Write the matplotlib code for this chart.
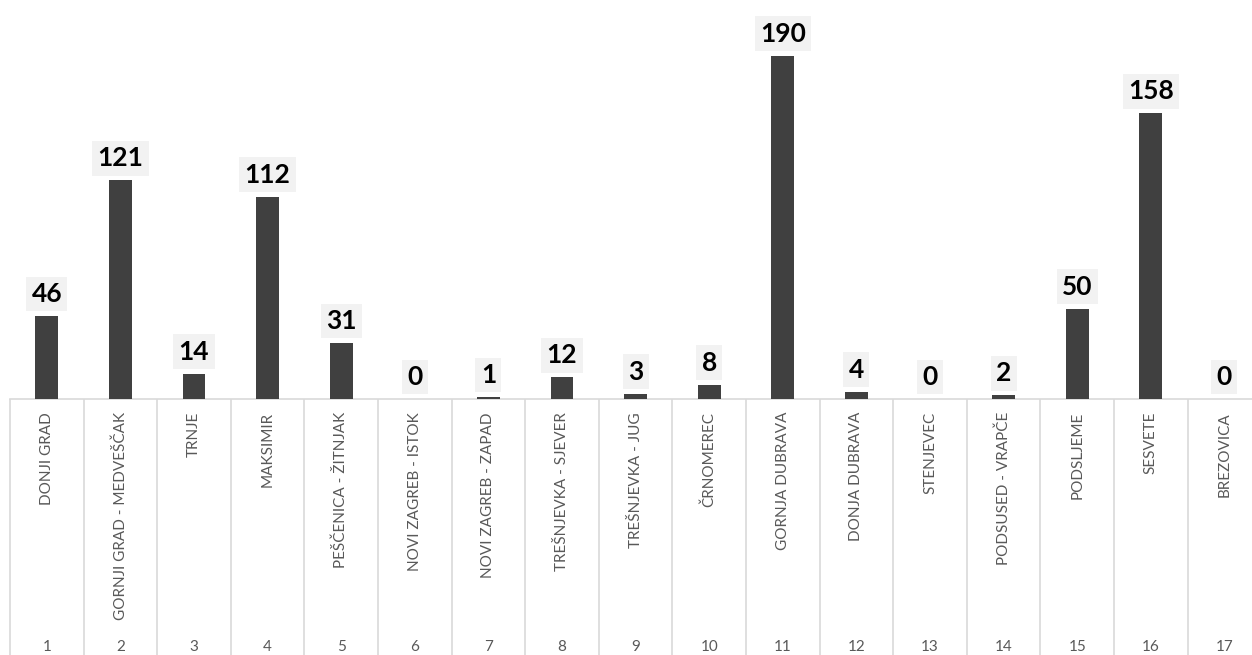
import numpy as np
import matplotlib
matplotlib.use("Agg")
import matplotlib.pyplot as plt
import matplotlib.transforms as mtransforms

districts = ["DONJI GRAD", "GORNJI GRAD - MEDVEŠČAK", "TRNJE", "MAKSIMIR",
             "PEŠČENICA - ŽITNJAK", "NOVI ZAGREB - ISTOK", "NOVI ZAGREB - ZAPAD",
             "TREŠNJEVKA - SJEVER", "TREŠNJEVKA - JUG", "ČRNOMEREC",
             "GORNJA DUBRAVA", "DONJA DUBRAVA", "STENJEVEC", "PODSUSED - VRAPČE",
             "PODSLJEME", "SESVETE", "BREZOVICA"]
numbers = [str(i) for i in range(1, 18)]
values = [46, 121, 14, 112, 31, 0, 1, 12, 3, 8, 190, 4, 0, 2, 50, 158, 0]

W, H = 1252, 655
fig = plt.figure(figsize=(W / 100, H / 100), dpi=100)
# axes: baseline at y=399 px, category width ~73.6 px, starting at x=10
left, base, step = 10, 399, 73.6
ax = fig.add_axes([left / W, (H - base) / H, step * 17 / W, base / H])
ax.set_xlim(-0.5, 16.5)
ax.set_ylim(0, base / 1.807)
ax.axis("off")

x = np.arange(len(values))
ax.bar(x, values, width=0.31, color="#404040", zorder=2)

# value labels in light grey boxes
for xi, v in zip(x, values):
    ax.annotate(str(v), (xi, v), xytext=(0, 10), textcoords="offset pixels",
                ha="center", va="bottom", fontsize=19, fontweight="bold",
                family="Lato", color="black",
                bbox=dict(boxstyle="square,pad=0.2", fc="#f2f2f2", ec="none"))

# category axis: baseline and separators
trans = mtransforms.blended_transform_factory(ax.transData, ax.transAxes)
low = -(H - base) / base
ax.plot([-0.5, 16.5], [0, 0], transform=trans, color="#d9d9d9", lw=1.2,
        clip_on=False, zorder=1)
ax.vlines(np.arange(-0.5, 17.0, 1.0), low, 0, transform=trans,
          color="#d9d9d9", lw=1.2, clip_on=False)

for xi, name, num in zip(x, districts, numbers):
    ax.text(xi, -13 / base, name, transform=trans, rotation=90, ha="center",
            va="top", fontsize=11, family="Lato", color="#595959")
    ax.text(xi, -(647 - base) / base, num, transform=trans, ha="center",
            va="center", fontsize=11, family="Lato", color="#595959")

fig.savefig("out.png", dpi=100)
